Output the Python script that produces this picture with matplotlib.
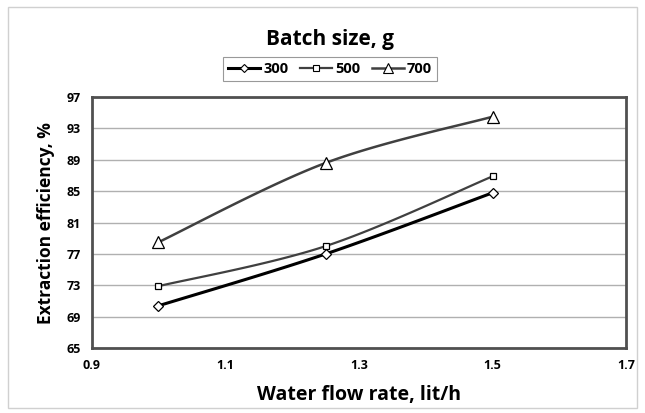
import numpy as np
import matplotlib.pyplot as plt
from matplotlib.patches import Rectangle

# data
flow_rate = [1.0, 1.25, 1.5]
eff_300 = [70.4, 77.0, 84.8]
eff_500 = [72.9, 78.0, 86.9]
eff_700 = [78.5, 88.6, 94.5]
series_labels = ["300", "500", "700"]

plt.rcParams['font.family'] = ['Open Sans', 'DejaVu Sans']


def smooth(x, y, n=40):
    # Catmull-Rom style curve through the points (like Excel's smoothed line)
    x = np.asarray(x, float)
    y = np.asarray(y, float)
    px = np.concatenate([[x[0]], x, [x[-1]]])
    py = np.concatenate([[y[0]], y, [y[-1]]])
    xs, ys = [], []
    t = np.linspace(0, 1, n)
    for i in range(1, len(px) - 2):
        p0, p1, p2, p3 = [np.array([px[j], py[j]]) for j in (i - 1, i, i + 1, i + 2)]
        c1 = p1 + (p2 - p0) / 6
        c2 = p2 - (p3 - p1) / 6
        b = ((1 - t) ** 3)[:, None] * p1 + (3 * (1 - t) ** 2 * t)[:, None] * c1 \
            + (3 * (1 - t) * t ** 2)[:, None] * c2 + (t ** 3)[:, None] * p2
        xs.extend(b[:, 0])
        ys.extend(b[:, 1])
    return xs, ys


fig = plt.figure(figsize=(6.45, 4.13), dpi=100)
ax = fig.add_axes([0.142, 0.157, 0.829, 0.608])

fig.patches.append(Rectangle((0.012, 0.012), 0.976, 0.97, transform=fig.transFigure,
                             fill=False, edgecolor='#d0d0d0', lw=1))

styles = [
    (eff_300, 'D', '#000000', 2.2, 6),
    (eff_500, 's', '#404040', 1.6, 5),
    (eff_700, '^', '#404040', 1.8, 9),
]
handles = []
for (vals, mk, col, lw, ms), lab in zip(styles, series_labels):
    sx, sy = smooth(flow_rate, vals)
    ax.plot(sx, sy, color=col, lw=lw, zorder=3)
    ax.plot(flow_rate, vals, linestyle='none', marker=mk, ms=ms if mk != 'D' else 5.5,
            markerfacecolor='white', markeredgecolor='black', markeredgewidth=0.9, zorder=4)
    h, = ax.plot([], [], color=col, lw=lw, marker=mk, ms=ms * 0.75,
                 markerfacecolor='white', markeredgecolor='black', markeredgewidth=0.8, label=lab)
    handles.append(h)

ax.set_xlim(0.9, 1.7)
ax.set_ylim(65, 97)
ax.set_xticks([0.9, 1.1, 1.3, 1.5, 1.7])
ax.set_yticks(np.arange(65, 98, 4))
ax.tick_params(length=0, labelsize=9, pad=8)
for t in ax.get_xticklabels() + ax.get_yticklabels():
    t.set_fontweight('bold')
ax.grid(axis='y', color='#b0b0b0', lw=1)
ax.set_axisbelow(True)
for s in ax.spines.values():
    s.set_linewidth(2)
    s.set_color('#505050')

ax.set_xlabel("Water flow rate, lit/h", fontsize=14, fontweight='bold', labelpad=9)
ax.set_ylabel("Extraction efficiency, %", fontsize=12.5, fontweight='bold', labelpad=8)

fig.text(0.512, 0.905, "Batch size, g", ha='center', va='center', fontsize=15, fontweight='bold')
leg = fig.legend(handles=handles, loc='center', bbox_to_anchor=(0.512, 0.833), ncol=3,
                 frameon=True, fancybox=False, edgecolor='#808080',
                 handlelength=2.2, handletextpad=0.2, columnspacing=0.8,
                 borderpad=0.35, prop={'weight': 'bold', 'size': 10.5})
leg.get_frame().set_linewidth(0.8)

fig.savefig("out.png", dpi=100)
